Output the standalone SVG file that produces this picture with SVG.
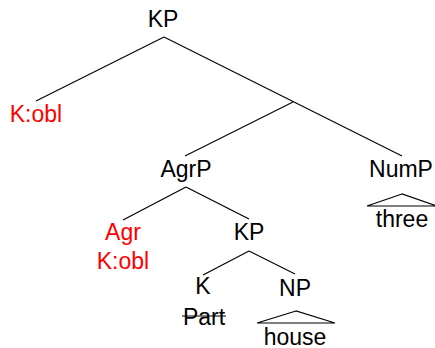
<svg xmlns="http://www.w3.org/2000/svg" width="435" height="348" viewBox="0 0 435 348">
<style>
text{font-family:"Liberation Sans",Arial,sans-serif;font-size:23px;text-anchor:middle;fill:#000}
.red{fill:#ff0000}
.e{stroke:#000;stroke-width:1.2;fill:none}
</style>
<rect width="435" height="348" fill="#fff"/>
<g id="connectors">
<line class="e" x1="164" y1="37" x2="36" y2="101"/>
<line class="e" x1="164" y1="37" x2="402" y2="156"/>
<line class="e" x1="293" y1="102" x2="185" y2="156"/>
<line class="e" x1="186" y1="187" x2="123" y2="220"/>
<line class="e" x1="186" y1="187" x2="249" y2="219"/>
<line class="e" x1="249" y1="251" x2="203" y2="275"/>
<line class="e" x1="249" y1="251" x2="295" y2="274"/>
</g>
<g id="n-KP-top"><text x="163" y="27">KP</text></g>
<g id="n-Kobl"><text class="red" x="36" y="122">K:obl</text></g>
<g id="n-AgrP"><text x="186" y="177">AgrP</text></g>
<g id="n-NumP"><text x="401" y="177">NumP</text></g>
<g id="n-three">
<polygon class="e" points="402,194 367,206 437,206"/>
<text x="402" y="227">three</text>
</g>
<g id="n-Agr"><text class="red" x="123" y="240">Agr</text><text class="red" x="123" y="269">K:obl</text></g>
<g id="n-KP2"><text x="249" y="240">KP</text></g>
<g id="n-K"><text x="203" y="294">K</text></g>
<g id="n-Part"><text x="204" y="325">Part</text><line class="e" x1="182" y1="316" x2="226" y2="316"/></g>
<g id="n-NP"><text x="295" y="296">NP</text></g>
<g id="n-house">
<polygon class="e" points="296,311 257,323 335,323"/>
<text x="295" y="345">house</text>
</g>
</svg>
